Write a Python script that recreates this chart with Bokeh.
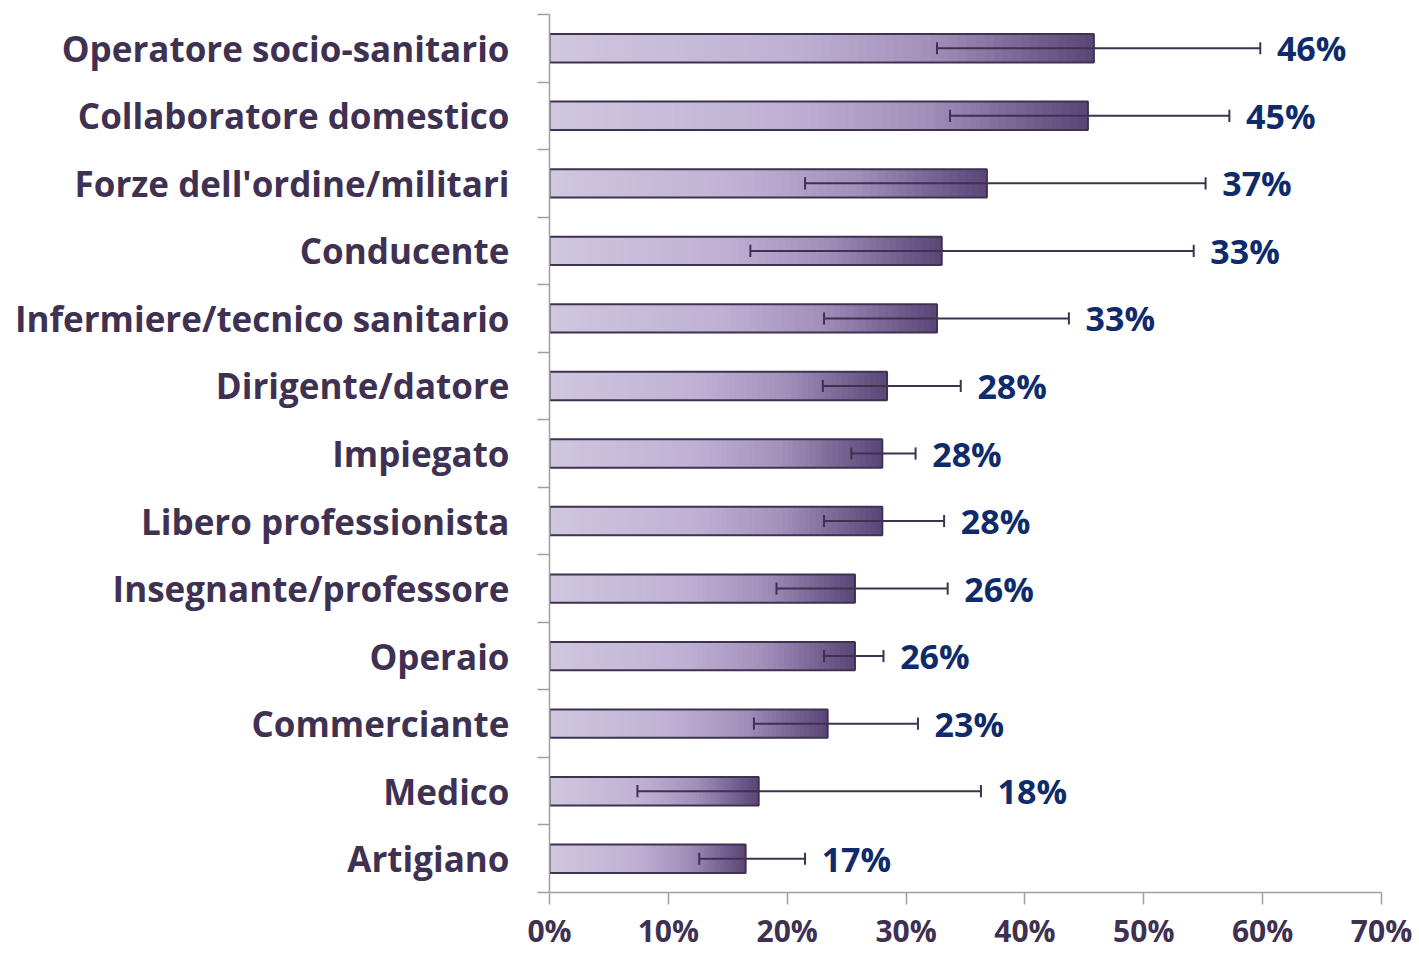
from bokeh.plotting import figure
from bokeh.models import Range1d, FixedTicker, CustomJSTickFormatter
from bokeh.core.properties import value
from bokeh.embed import file_html
from bokeh.resources import INLINE

# ---- data (top to bottom as in the chart) ----
categories = ["Operatore socio-sanitario", "Collaboratore domestico", "Forze dell'ordine/militari",
              "Conducente", "Infermiere/tecnico sanitario", "Dirigente/datore", "Impiegato",
              "Libero professionista", "Insegnante/professore", "Operaio", "Commerciante",
              "Medico", "Artigiano"]
values = [45.8, 45.3, 36.8, 33.0, 32.6, 28.4, 28.0, 28.0, 25.7, 25.7, 23.4, 17.6, 16.5]
err_low = [32.6, 33.7, 21.5, 16.9, 23.1, 23.0, 25.4, 23.1, 19.1, 23.1, 17.2, 7.4, 12.6]
err_high = [59.8, 57.2, 55.2, 54.2, 43.7, 34.6, 30.8, 33.2, 33.5, 28.1, 31.0, 36.3, 21.5]
labels = ["46%", "45%", "37%", "33%", "33%", "28%", "28%", "28%", "26%", "26%", "23%", "18%", "17%"]
x_ticks = [0, 10, 20, 30, 40, 50, 60, 70]

n = len(categories)
ys = [n - 0.5 - i for i in range(n)]  # top row at top

FONT = "Open Sans"
CAT_COLOR = "#3F3151"
VAL_COLOR = "#0F2B6B"
AXIS_GRAY = "#A0A0A0"

p = figure(output_backend="svg", toolbar_location=None,
           frame_width=832, frame_height=878,
           x_range=Range1d(0, 70), y_range=Range1d(0, n),
           min_border_left=549, min_border_top=14, min_border_right=34, min_border_bottom=0)
p.outline_line_color = None
p.xgrid.grid_line_color = None
p.ygrid.grid_line_color = None
p.background_fill_color = "white"

# ---- gradient bars built from thin slices ----
stops = [(0.0, (208, 199, 224)), (0.45, (190, 176, 211)), (0.7, (162, 144, 186)),
         (0.85, (126, 106, 153)), (1.0, (90, 70, 118))]

def grad(t):
    for (t0, c0), (t1, c1) in zip(stops[:-1], stops[1:]):
        if t <= t1:
            f = (t - t0) / (t1 - t0) if t1 > t0 else 0
            return "#%02x%02x%02x" % tuple(int(round(a + (b - a) * f)) for a, b in zip(c0, c1))
    return "#%02x%02x%02x" % stops[-1][1]

N = 60
left, right, bot, top, cols = [], [], [], [], []
bh = 0.42
for v, y in zip(values, ys):
    for i in range(N):
        left.append(v * i / N)
        right.append(v * min(i + 3, N) / N)
        bot.append(y - bh / 2)
        top.append(y + bh / 2)
        cols.append(grad((i + 0.5) / N))
p.quad(left=left, right=right, bottom=bot, top=top, fill_color=cols, line_color=None)
p.hbar(y=ys, right=values, left=0, height=bh, fill_alpha=0, line_color=CAT_COLOR, line_width=2)

# ---- error bars ----
p.segment(x0=err_low, x1=err_high, y0=ys, y1=ys, line_color=CAT_COLOR, line_width=2)
cap = 0.09
p.segment(x0=err_low, x1=err_low, y0=[y - cap for y in ys], y1=[y + cap for y in ys],
          line_color=CAT_COLOR, line_width=2)
p.segment(x0=err_high, x1=err_high, y0=[y - cap for y in ys], y1=[y + cap for y in ys],
          line_color=CAT_COLOR, line_width=2)

# ---- value labels ----
lab_x = [max(h, v) + 1.4 for h, v in zip(err_high, values)]
p.text(x=lab_x, y=ys, text=labels, text_font=value(FONT), text_font_style="bold",
       text_font_size="34px", text_color=VAL_COLOR, text_baseline="middle", text_align="left")

# ---- axes ----
ya = p.yaxis[0]
ya.ticker = FixedTicker(ticks=ys, minor_ticks=list(range(n + 1)))
ya.formatter = CustomJSTickFormatter(args=dict(names=categories[::-1]),
                                     code="return names[Math.floor(tick)];")
ya.major_tick_out = 0
ya.major_tick_in = 0
ya.minor_tick_out = 12
ya.minor_tick_in = 0
ya.minor_tick_line_color = AXIS_GRAY
ya.minor_tick_line_width = 1.5
ya.axis_line_color = AXIS_GRAY
ya.axis_line_width = 1.5
ya.major_label_standoff = 28
ya.major_label_text_font = FONT
ya.major_label_text_font_style = "bold"
ya.major_label_text_font_size = "35px"
ya.major_label_text_color = CAT_COLOR

xa = p.xaxis[0]
xa.ticker = FixedTicker(ticks=x_ticks, minor_ticks=[])
xa.formatter = CustomJSTickFormatter(code="return tick + '%';")
xa.major_tick_out = 12
xa.major_tick_in = 0
xa.major_tick_line_color = AXIS_GRAY
xa.major_tick_line_width = 1.5
xa.axis_line_color = AXIS_GRAY
xa.axis_line_width = 1.5
xa.major_label_standoff = 5
xa.major_label_text_font = FONT
xa.major_label_text_font_style = "bold"
xa.major_label_text_font_size = "30px"
xa.major_label_text_color = CAT_COLOR

open("out.html", "w").write(file_html(p, INLINE))
